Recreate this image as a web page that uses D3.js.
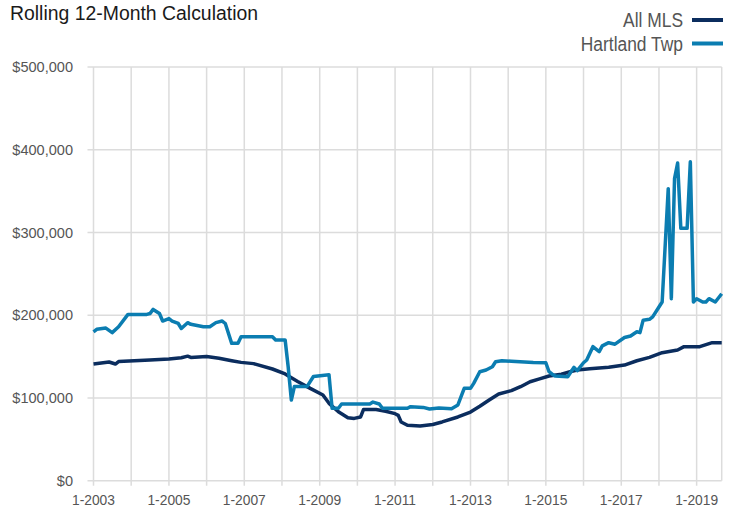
<!DOCTYPE html>
<html>
<head>
<meta charset="utf-8">
<script src="https://cdn.jsdelivr.net/npm/d3@7"></script>
<style>
  body { margin: 0; background: #fff; }
  svg text { font-family: "Liberation Sans", Arial, sans-serif; }
</style>
</head>
<body>
<svg id="chart" width="738" height="515"></svg>
<script>
"use strict";

// 월별 값 (단위: 천 달러), 그림에서 읽은 꺾이는 지점들
const mlsDates = ["2003-01","2003-06","2003-08","2003-09","2004-02","2004-07","2005-01","2005-05","2005-07","2005-08",
  "2006-01","2006-05","2006-09","2006-12","2007-04","2007-10","2008-02","2008-06","2008-10","2009-02",
  "2009-04","2009-07","2009-10","2009-12","2010-02","2010-03","2010-07","2010-10","2011-01","2011-02",
  "2011-03","2011-05","2011-09","2012-01","2012-04","2012-09","2013-01","2013-04","2013-07","2013-10",
  "2014-02","2014-05","2014-08","2014-11","2015-02","2015-06","2015-09","2015-11","2016-03","2016-09",
  "2017-02","2017-06","2017-10","2018-02","2018-07","2018-09","2019-02","2019-06","2019-09"];
const mlsValues = [141,143.5,141,144,145,146,147,148.6,150.5,149,
  150,148,145,143,141.5,135,129,120,111.6,103.6,
  93.5,83.4,76,75.3,77,86,86,84,81,79,
  71,67,66,68,71,77,83,90,97.5,104.8,
  108.8,113.6,119.6,123,126.5,128.6,132,133.8,135.4,137,
  139.8,145,149,154.7,158,162,162,166.8,166.8];

const hartlandDates = ["2003-01","2003-02","2003-05","2003-07","2003-09","2003-12","2004-06","2004-07","2004-08","2004-10",
  "2004-11","2005-01","2005-02","2005-04","2005-05","2005-07","2005-08","2005-12","2006-02","2006-04",
  "2006-06","2006-07","2006-09","2006-11","2006-12","2007-10","2007-11","2008-02","2008-03","2008-04",
  "2008-05","2008-09","2008-11","2009-04","2009-05","2009-07","2009-08","2010-05","2010-06","2010-08",
  "2010-09","2011-05","2011-06","2011-10","2011-12","2012-03","2012-07","2012-09","2012-11","2013-01",
  "2013-02","2013-04","2013-06","2013-08","2013-09","2013-11","2014-02","2014-09","2015-01","2015-02",
  "2015-03","2015-04","2015-08","2015-10","2015-11","2016-01","2016-02","2016-04","2016-06","2016-07",
  "2016-09","2016-11","2017-02","2017-04","2017-06","2017-07","2017-08","2017-10","2017-11","2018-01",
  "2018-02","2018-04","2018-05","2018-06","2018-07","2018-08","2018-10","2018-11","2018-12","2019-01",
  "2019-03","2019-04","2019-05","2019-07","2019-09"];
const hartlandValues = [180,183,184.5,179,186,201,201,202,207,202,
  193,196,193,190,184,191,189,186,186,191,
  193,190,166,166,174,174,170,170,138,97.5,
  114,114,126,128,87.5,87.5,92.7,92.7,95,92.7,
  87.5,87.5,89.5,88.6,86.6,88,87,91.5,111.6,111.6,
  117.7,131.7,133.8,137.8,143.8,145,144.3,143,142.6,131.7,
  129,126.5,125.7,137,133,142.6,145.9,162,156,163,
  166.8,165,173,174.9,180,179,194,195,198,210,
  216,353,220,365,384,305,305,385.5,216,220,
  216,216,220,216,226];

const yTicks = [0, 100000, 200000, 300000, 400000, 500000];
const xTickYears = [2003, 2005, 2007, 2009, 2011, 2013, 2015, 2017, 2019];
const seriesNames = ["All MLS", "Hartland Twp"];
const seriesColors = ["#0b2d5e", "#0b7db1"];

const parseMonth = d3.timeParse("%Y-%m");
const toPoints = (dates, values) => dates.map((d, i) => ({ date: parseMonth(d), value: values[i] * 1000 }));
const series = [toPoints(mlsDates, mlsValues), toPoints(hartlandDates, hartlandValues)];

const svg = d3.select("#chart");
const plotLeft = 93.5, plotRight = 721.7, plotTop = 67, plotBottom = 480.7;

// 원본 글꼴이 좁은(condensed) 글꼴이라서 글자 폭을 조금 줄여줌
function condense(sel, factor) {
  sel.each(function () {
    const w = this.getComputedTextLength();
    d3.select(this).attr("textLength", w * factor).attr("lengthAdjust", "spacingAndGlyphs");
  });
}

const x = d3.scaleTime()
  .domain([parseMonth("2003-01"), parseMonth("2019-09")])
  .range([plotLeft, plotRight]);
const y = d3.scaleLinear().domain([0, 500000]).range([plotBottom, plotTop]);

// 가로 격자선
svg.append("g")
  .selectAll("line")
  .data(yTicks)
  .join("line")
  .attr("x1", plotLeft - 6).attr("x2", plotRight)
  .attr("y1", d => y(d)).attr("y2", d => y(d))
  .attr("stroke", "#dcdcdc").attr("stroke-width", 1.5);

// 세로 격자선 (매년 1월) + 눈금
const yearLines = d3.range(2003, 2020).map(yr => new Date(yr, 0, 1));
svg.append("g")
  .selectAll("line")
  .data(yearLines)
  .join("line")
  .attr("x1", d => x(d)).attr("x2", d => x(d))
  .attr("y1", plotTop).attr("y2", plotBottom + 5)
  .attr("stroke", "#dcdcdc").attr("stroke-width", 1.5);

svg.append("line")
  .attr("x1", plotRight).attr("x2", plotRight)
  .attr("y1", plotTop).attr("y2", plotBottom)
  .attr("stroke", "#dcdcdc").attr("stroke-width", 1.5);

// y축 라벨
svg.append("g")
  .selectAll("text")
  .data(yTicks)
  .join("text")
  .attr("x", 73)
  .attr("y", d => y(d))
  .attr("dy", "0.35em")
  .attr("text-anchor", "end")
  .attr("fill", "#555")
  .style("font-size", "15px")
  .text(d => "$" + d3.format(",")(d))
  .call(condense, 0.97);

// x축 라벨
svg.append("g")
  .selectAll("text")
  .data(xTickYears)
  .join("text")
  .attr("x", d => x(new Date(d, 0, 1)))
  .attr("y", 505)
  .attr("text-anchor", "middle")
  .attr("fill", "#555")
  .style("font-size", "15px")
  .text(d => "1-" + d)
  .call(condense, 0.92);

// 선 그리기
const line = d3.line().x(d => x(d.date)).y(d => y(d.value));
svg.append("g")
  .selectAll("path")
  .data(series)
  .join("path")
  .attr("d", line)
  .attr("fill", "none")
  .attr("stroke", (d, i) => seriesColors[i])
  .attr("stroke-width", 3.5)
  .attr("stroke-linejoin", "round");

// 제목
svg.append("text")
  .attr("x", 10).attr("y", 20)
  .attr("fill", "#1a1a1a")
  .style("font-size", "20px")
  .text("Rolling 12-Month Calculation")
  .call(condense, 0.97);

// 범례
const legend = svg.append("g")
  .selectAll("g")
  .data(seriesNames)
  .join("g")
  .attr("transform", (d, i) => `translate(0, ${20 + i * 23.5})`);
legend.append("text")
  .attr("x", 683).attr("dy", "0.35em")
  .attr("text-anchor", "end")
  .attr("fill", "#555")
  .style("font-size", "20px")
  .text(d => d)
  .call(condense, 0.87);
legend.append("line")
  .attr("x1", 692).attr("x2", 723)
  .attr("stroke", (d, i) => seriesColors[i])
  .attr("stroke-width", 4);
</script>
</body>
</html>
